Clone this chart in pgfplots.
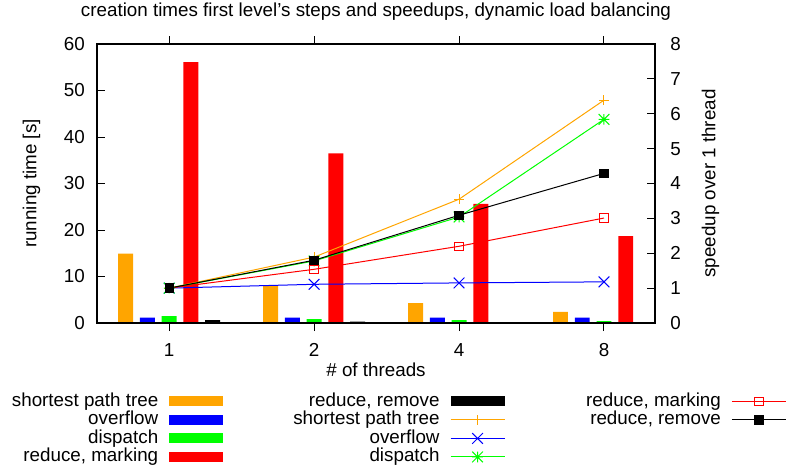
\documentclass[border=0pt]{standalone}
\usepackage{pgfplots}
\usepackage{pgfplotstable}
\pgfplotsset{compat=1.18}
\usepackage{fontspec}
\setmainfont{Liberation Sans}
\definecolor{gpor}{HTML}{FFA500}
\definecolor{gpbl}{HTML}{0000FF}
\definecolor{gpgr}{HTML}{00FF00}
\definecolor{gprd}{HTML}{FF0000}

\pgfdeclareplotmark{gpplus}{%
  \pgfpathmoveto{\pgfqpoint{-\pgfplotmarksize}{0pt}}\pgfpathlineto{\pgfqpoint{\pgfplotmarksize}{0pt}}%
  \pgfpathmoveto{\pgfqpoint{0pt}{-\pgfplotmarksize}}\pgfpathlineto{\pgfqpoint{0pt}{\pgfplotmarksize}}%
  \pgfusepathqstroke}
\pgfdeclareplotmark{gpx}{%
  \pgfpathmoveto{\pgfqpoint{-\pgfplotmarksize}{-\pgfplotmarksize}}\pgfpathlineto{\pgfqpoint{\pgfplotmarksize}{\pgfplotmarksize}}%
  \pgfpathmoveto{\pgfqpoint{-\pgfplotmarksize}{\pgfplotmarksize}}\pgfpathlineto{\pgfqpoint{\pgfplotmarksize}{-\pgfplotmarksize}}%
  \pgfusepathqstroke}
\pgfdeclareplotmark{gpstar}{%
  \pgfpathmoveto{\pgfqpoint{-\pgfplotmarksize}{0pt}}\pgfpathlineto{\pgfqpoint{\pgfplotmarksize}{0pt}}%
  \pgfpathmoveto{\pgfqpoint{0pt}{-\pgfplotmarksize}}\pgfpathlineto{\pgfqpoint{0pt}{\pgfplotmarksize}}%
  \pgfpathmoveto{\pgfqpoint{-\pgfplotmarksize}{-\pgfplotmarksize}}\pgfpathlineto{\pgfqpoint{\pgfplotmarksize}{\pgfplotmarksize}}%
  \pgfpathmoveto{\pgfqpoint{-\pgfplotmarksize}{\pgfplotmarksize}}\pgfpathlineto{\pgfqpoint{\pgfplotmarksize}{-\pgfplotmarksize}}%
  \pgfusepathqstroke}

\pgfplotstableread{
x spt ovf dis rm rr
0 14.9 1.15 1.5 56.1 0.6
1 8.1 1.15 0.85 36.5 0.3
2 4.3 1.15 0.6 25.6 0.2
3 2.4 1.15 0.4 18.7 0.1
}\timesdata

\pgfplotstableread{
x spt ovf dis rm rr
0 1 1 1 1 1
1 1.89 1.11 1.78 1.54 1.80
2 3.55 1.15 3.04 2.20 3.09
3 6.39 1.18 5.84 3.01 4.29
}\speeddata

\newcommand\barimg[1]{\addlegendimage{legend image code/.code={%
   \fill[#1, draw=none] (8.25pt,-3.75pt) rectangle (48.75pt,3.75pt);
   \path[draw=none, fill=none] (0pt,0pt) (100pt,0pt);}}}
\newcommand\lineimg[1]{\addlegendimage{legend image code/.code={%
   \draw[#1, line width=0.75pt, mark repeat=2, mark phase=2] plot coordinates {(8.25pt,0pt) (28.5pt,0pt) (48.75pt,0pt)};
   \path[draw=none, fill=none] (0pt,0pt) (100pt,0pt);}}}
\newcommand\lent[1]{\addlegendentry{\makebox[111pt][r]{#1}}}

\begin{document}
\fontsize{14.1pt}{16.9pt}\selectfont
\begin{tikzpicture}
\path[use as bounding box] (0,0) rectangle (590.25pt,348.75pt);
\begin{axis}[
  at={(72.75pt,106.5pt)}, anchor=south west,
  scale only axis, width=418.5pt, height=209.25pt,
  xmin=-0.498, xmax=3.352, ymin=0, ymax=60,
  xtick={0,1,2,3}, xticklabels={1,2,4,8},
  ytick={0,10,...,60},
  ytick pos=left,
  tick align=inside,
  major tick length=6pt,
  axis line style={line width=1pt},
  tick style={black, line width=0.75pt},
  /pgf/number format/assume math mode=true,
  xticklabel style={anchor=base, yshift=-18.75pt, inner sep=0pt},
  yticklabel style={anchor=east, inner sep=0pt, xshift=-9pt},
  title={creation times first level’s steps and speedups, dynamic load balancing},
  title style={at={(axis description cs:0.5,1)}, anchor=base, yshift=14.6pt, inner sep=0pt},
  xlabel={\# of threads},
  xlabel style={at={(axis description cs:0.5,0)}, anchor=base, yshift=-39.75pt, inner sep=0pt},
  ylabel={running time [s]},
  ylabel style={at={(axis description cs:-0.1174,0.5)}, anchor=center},
  ybar, bar width=0.103,
]
\addplot[fill=gpor, draw=none, bar shift=-0.3] table[x=x,y=spt]{\timesdata};
\addplot[fill=gpbl, draw=none, bar shift=-0.15] table[x=x,y=ovf]{\timesdata};
\addplot[fill=gpgr, draw=none, bar shift=0] table[x=x,y=dis]{\timesdata};
\addplot[fill=gprd, draw=none, bar shift=0.15] table[x=x,y=rm]{\timesdata};
\addplot[fill=black, draw=none, bar shift=0.3] table[x=x,y=rr]{\timesdata};
\end{axis}
\begin{axis}[
  at={(72.75pt,106.5pt)}, anchor=south west,
  scale only axis, width=418.5pt, height=209.25pt,
  xmin=-0.498, xmax=3.352, ymin=0, ymax=8,
  xtick=\empty,
  ytick={0,...,8},
  ytick pos=right, yticklabel pos=right,
  tick align=inside, major tick length=6pt,
  axis line style={line width=1pt},
  tick style={black, line width=0.75pt},
  /pgf/number format/assume math mode=true,
  yticklabel style={anchor=west, inner sep=0pt, xshift=11.25pt},
  ylabel={speedup over 1 thread},
  ylabel style={at={(axis description cs:1.0995,0.5)}, anchor=center},
  legend columns=3,
  legend plot pos=right,
  legend style={at={(axis description cs:-0.1555,-0.2497)}, anchor=north west,
    draw=none, fill=none, inner sep=0pt, outer sep=0pt,
    row sep=0.9pt, column sep=0pt,
    nodes={inner sep=0pt, text height=10pt, text depth=3pt}},
]
\addplot[gpor, line width=0.75pt, mark=gpplus, mark size=3.75pt, forget plot] table[x=x,y=spt]{\speeddata};
\addplot[gpbl, line width=0.75pt, mark=gpx, mark size=4pt, forget plot] table[x=x,y=ovf]{\speeddata};
\addplot[gpgr, line width=0.75pt, mark=gpstar, mark size=4pt, forget plot] table[x=x,y=dis]{\speeddata};
\addplot[gprd, line width=0.75pt, mark=square, mark size=3.1pt, forget plot] table[x=x,y=rm]{\speeddata};
\addplot[black, line width=0.75pt, mark=square*, mark size=3.1pt, forget plot] table[x=x,y=rr]{\speeddata};
\barimg{gpor}\lent{shortest path tree}
\barimg{black}\lent{reduce, remove}
\lineimg{gprd, mark=square, mark size=3.1pt}\lent{reduce, marking}
\barimg{gpbl}\lent{overflow}
\lineimg{gpor, mark=gpplus, mark size=3.75pt}\lent{shortest path tree}
\lineimg{black, mark=square*, mark size=3.1pt}\lent{reduce, remove}
\barimg{gpgr}\lent{dispatch}
\lineimg{gpbl, mark=gpx, mark size=4pt}\lent{overflow}
\addlegendimage{empty legend}\addlegendentry{}
\barimg{gprd}\lent{reduce, marking}
\lineimg{gpgr, mark=gpstar, mark size=4pt}\lent{dispatch}
\end{axis}
\end{tikzpicture}
\end{document}
